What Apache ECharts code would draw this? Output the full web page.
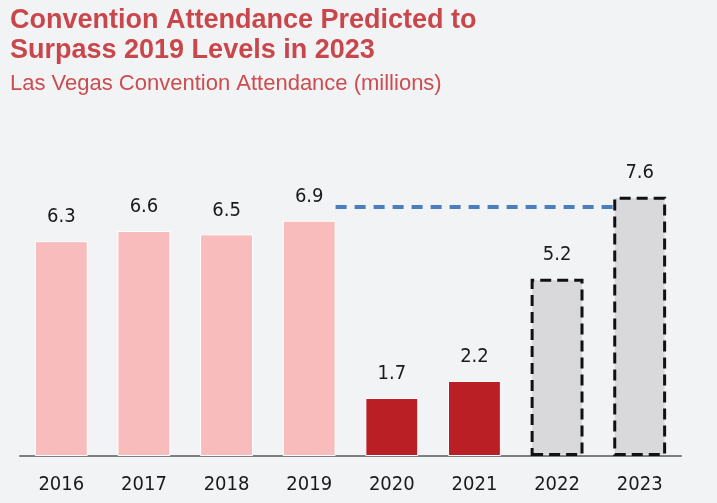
<!DOCTYPE html>
<html>
<head>
<meta charset="utf-8">
<script src="https://cdn.jsdelivr.net/npm/echarts@6/dist/echarts.min.js"></script>
<style>
  html, body { margin: 0; padding: 0; background: #f2f3f5; }
  #chart { width: 717px; height: 503px; }
</style>
</head>
<body>
<div id="chart"></div>
<script>
// Las Vegas convention attendance, millions
const years = ['2016', '2017', '2018', '2019', '2020', '2021', '2022', '2023'];
const attendance = [6.3, 6.6, 6.5, 6.9, 1.7, 2.2, 5.2, 7.6];
// actual = pre-pandemic, covid = pandemic years, forecast = projected
const period = ['actual', 'actual', 'actual', 'actual', 'covid', 'covid', 'forecast', 'forecast'];
// dashed guide running from the 2019 bar to the 2023 bar
const guideFrom = 3;
const guideTo = 7;
const guideLevel = 7.3;

const BAR_RATIO = 0.64;
const NUM_FONT = '"DejaVu Sans Condensed", "Liberation Sans", sans-serif';
const styles = {
  actual:   { color: '#f8bcbd', borderColor: '#ffffff', borderWidth: 1 },
  covid:    { color: '#b91f25', borderColor: '#ffffff', borderWidth: 1 },
  forecast: { color: '#d9d9db', borderColor: '#111111', borderWidth: 3, borderType: [11, 6] }
};

const barData = attendance.map((v, i) => ({ value: v, itemStyle: styles[period[i]] }));

const chart = echarts.init(document.getElementById('chart'));
chart.setOption({
  backgroundColor: '#f2f3f5',
  animation: false,
  title: [
    {
      text: 'Convention Attendance Predicted to\nSurpass 2019 Levels in 2023',
      left: 10, top: 6, padding: 0,
      textStyle: { fontFamily: 'Liberation Sans', fontWeight: 'bold', fontSize: 27, lineHeight: 30, color: '#c9474b' }
    },
    {
      text: 'Las Vegas Convention Attendance (millions)',
      left: 10, top: 73, padding: 0,
      textStyle: { fontFamily: 'Liberation Sans', fontWeight: 'normal', fontSize: 22, color: '#cc4d50' }
    }
  ],
  grid: { left: 20, right: 36, top: 115, bottom: 47 },
  xAxis: {
    type: 'category',
    data: years,
    axisLine: { lineStyle: { color: '#7f7f7f', width: 2 } },
    axisTick: { show: false },
    axisLabel: { margin: 19, fontFamily: NUM_FONT, fontSize: 20, color: '#1a1a1a' }
  },
  yAxis: { type: 'value', min: 0, max: 10, show: false, splitLine: { show: false } },
  series: [
    {
      type: 'bar',
      data: barData,
      barWidth: (BAR_RATIO * 100) + '%',
      label: {
        show: true, position: 'top', distance: 14,
        fontFamily: NUM_FONT, fontSize: 20, color: '#1a1a1a',
        formatter: p => p.value.toFixed(1)
      }
    },
    {
      type: 'custom',
      data: [[guideFrom, guideTo, guideLevel]],
      z: 5,
      renderItem: function (params, api) {
        const a = api.coord([api.value(0), api.value(2)]);
        const b = api.coord([api.value(1), api.value(2)]);
        const half = api.size([1, 0])[0] * BAR_RATIO / 2;
        return {
          type: 'line',
          shape: { x1: a[0] + half, y1: a[1], x2: b[0] - half, y2: b[1] },
          style: { stroke: '#4a7ebf', lineWidth: 4, lineDash: [11, 8] }
        };
      }
    }
  ]
});
</script>
</body>
</html>
